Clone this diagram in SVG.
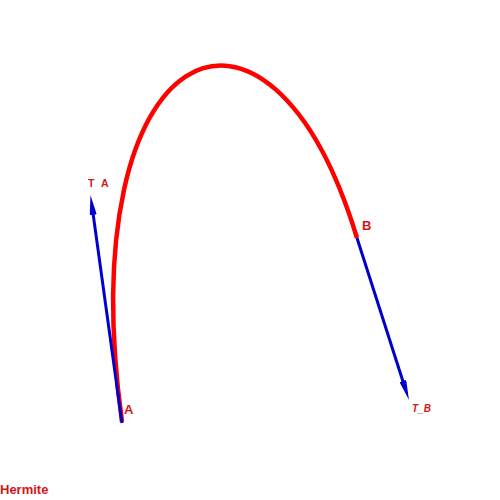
<svg xmlns="http://www.w3.org/2000/svg" width="500" height="500" viewBox="0 0 500 500">
<style>
.lbl{font-family:"Liberation Sans",Arial,sans-serif;fill:#d01818;font-weight:bold}
.vec{stroke:#0000cc;stroke-width:3;fill:none}
</style>
<defs>
<marker id="ah" viewBox="0 0 20 7" refX="6" refY="3.5" markerWidth="20" markerHeight="7" markerUnits="userSpaceOnUse" orient="auto">
<path d="M0,0 L20,3.5 L0,7 Z" fill="#0000cc"/>
</marker>
</defs>
<rect width="500" height="500" fill="#ffffff"/>
<g id="curve">
<path d="M122,422 C69.3,37.8 268,-55 357,238" fill="none" stroke="#ff0000" stroke-width="4.5"/>
</g>
<g id="connectors">
<line class="vec" x1="122" y1="423" x2="92.4" y2="208.9" marker-end="url(#ah)"/>
<line class="vec" x1="357" y1="238" x2="404.7" y2="386.7" marker-end="url(#ah)"/>
</g>
<g id="labels">
<text class="lbl" x="124" y="414" font-size="13">A</text>
<text class="lbl" x="362" y="230" font-size="13">B</text>
<text class="lbl" font-size="10.5" y="187"><tspan x="88">T</tspan><tspan x="101">A</tspan></text>
<text class="lbl" x="412" y="412" font-size="10" font-style="italic">T_B</text>
<text class="lbl" x="0" y="494" font-size="13">Hermite</text>
</g>
</svg>
